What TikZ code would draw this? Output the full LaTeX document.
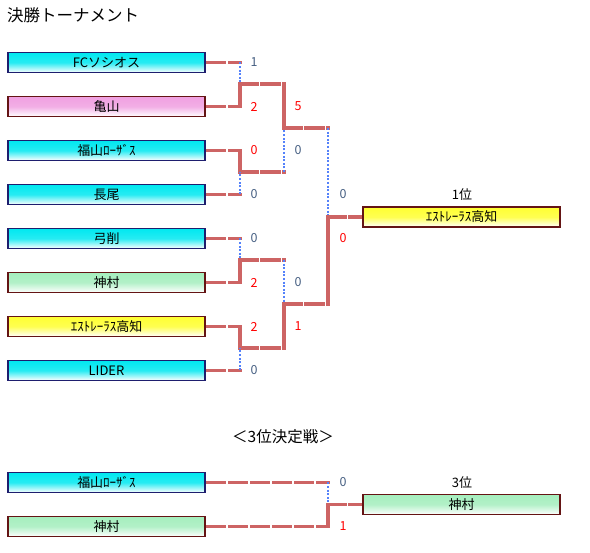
\documentclass[tikz,border=0pt]{standalone}
\usepackage{fontspec}
\setmainfont{Noto Sans CJK JP}
\definecolor{ln}{RGB}{205,100,100}
\definecolor{dt}{RGB}{85,130,250}
\definecolor{lose}{RGB}{70,95,130}
\definecolor{win}{RGB}{255,0,0}
\definecolor{navyb}{RGB}{30,30,110}
\definecolor{maroonb}{RGB}{100,20,20}
\definecolor{cyT}{RGB}{0,232,240}
\definecolor{pkT}{RGB}{240,160,225}
\definecolor{grT}{RGB}{165,238,190}
\definecolor{yeT}{RGB}{255,255,50}
\tikzset{
  team/.style={minimum width=197pt, minimum height=20pt, inner sep=0pt, line width=1.3pt, font=\fontsize{13}{15}\selectfont},
  cy/.style={team, draw=navyb, top color=cyT, bottom color=white, middle color=cyT!85!white},
  pk/.style={team, draw=maroonb, top color=pkT, bottom color=white, middle color=pkT!85!white},
  gr/.style={team, draw=maroonb, top color=grT, bottom color=white, middle color=grT!85!white},
  ye/.style={team, draw=maroonb, top color=yeT, bottom color=white, middle color=yeT!85!white},
  hl/.style={draw=ln, line width=3.2pt, line cap=rect, dash pattern=on 17pt off 5pt},
  vl/.style={draw=ln, line width=3.2pt, line cap=rect},
  dl/.style={draw=dt, line width=2.4pt, dash pattern=on 2pt off 1.6pt},
  sc/.style={font=\fontsize{12.5}{14}\selectfont, inner sep=0pt},
  ls/.style={sc, text=lose},
  ws/.style={sc, text=win},
  lab/.style={font=\fontsize{13}{15}\selectfont, inner sep=0pt}
}
\begin{document}
\begin{tikzpicture}[x=1pt, y=-1pt]
\useasboundingbox (0,0) rectangle (590,553);
\node[anchor=west, font=\fontsize{16.5}{19}\selectfont, inner sep=0pt] (title) at (7,15) {決勝トーナメント};
% teams
\node[cy] (fc) at (106.5,62.5) {FCソシオス};
\node[pk] (km) at (106.5,106.5) {亀山};
\node[cy] (fk) at (106.5,150.5) {福山ﾛｰｻﾞｽ};
\node[cy] (no) at (106.5,194.5) {長尾};
\node[cy] (yg) at (106.5,238.5) {弓削};
\node[gr] (kk) at (106.5,282.5) {神村};
\node[ye] (ex) at (106.5,326.5) {ｴｽﾄﾚｰﾗｽ高知};
\node[cy] (li) at (106.5,370.5) {LIDER};
\node[ye] (ch) at (461.5,217) {ｴｽﾄﾚｰﾗｽ高知};
\node[lab] (p1) at (462,195) {1位};
% junction coordinates
\coordinate (a1) at (240,62.5); \coordinate (a2) at (240,106.5); \coordinate (am) at (240,84);
\coordinate (b1) at (240,150.5); \coordinate (b2) at (240,194.5); \coordinate (bm) at (240,172);
\coordinate (c1) at (240,238.5); \coordinate (c2) at (240,282.5); \coordinate (cm) at (240,260);
\coordinate (d1) at (240,326.5); \coordinate (d2) at (240,370.5); \coordinate (dm) at (240,348);
\coordinate (e1) at (284,84); \coordinate (e2) at (284,172); \coordinate (em) at (284,128);
\coordinate (f1) at (284,260); \coordinate (f2) at (284,348); \coordinate (fm) at (284,304);
\coordinate (g1) at (328,128); \coordinate (g2) at (328,304); \coordinate (gm) at (328,217);
% round 1
\draw[hl] ([xshift=1.6pt]fc.east) -- (a1);
\draw[dl] (a1) -- (am);
\draw[hl] ([xshift=1.6pt]km.east) -- (a2);
\draw[vl] (a2) -- (am);
\draw[hl] (am) -- (e1);
\draw[hl] ([xshift=1.6pt]fk.east) -- (b1);
\draw[vl] (b1) -- (bm);
\draw[hl] (bm) -- (e2);
\draw[hl] ([xshift=1.6pt]no.east) -- (b2);
\draw[dl] (b2) -- (bm);
\draw[hl] ([xshift=1.6pt]yg.east) -- (c1);
\draw[dl] (c1) -- (cm);
\draw[hl] ([xshift=1.6pt]kk.east) -- (c2);
\draw[vl] (c2) -- (cm);
\draw[hl] (cm) -- (f1);
\draw[hl] ([xshift=1.6pt]ex.east) -- (d1);
\draw[vl] (d1) -- (dm);
\draw[hl] (dm) -- (f2);
\draw[hl] ([xshift=1.6pt]li.east) -- (d2);
\draw[dl] (d2) -- (dm);
% round 2
\draw[vl] (e1) -- (em);
\draw[dl] (e2) -- (em);
\draw[hl] (em) -- (g1);
\draw[dl] (f1) -- (fm);
\draw[vl] (f2) -- (fm);
\draw[hl] (fm) -- (g2);
% final
\draw[dl] (g1) -- (gm);
\draw[vl] (g2) -- (gm);
\draw[hl] (gm) -- ([xshift=-1.6pt]ch.west);
% scores
\node[ls] (s1) at (254,62.5) {1};
\node[ws] (s2) at (254,106.5) {2};
\node[ws] (s3) at (254,150.5) {0};
\node[ls] (s4) at (254,194.5) {0};
\node[ls] (s5) at (254,238.5) {0};
\node[ws] (s6) at (254,282.5) {2};
\node[ws] (s7) at (254,326.5) {2};
\node[ls] (s8) at (254,370.5) {0};
\node[ws] (r1) at (298,106.5) {5};
\node[ls] (r2) at (298,150.5) {0};
\node[ls] (r3) at (298,282.5) {0};
\node[ws] (r4) at (298,326.5) {1};
\node[ls] (q1) at (343,194.5) {0};
\node[ws] (q2) at (343,238.5) {0};
% third place
\node[font=\fontsize{15.5}{18}\selectfont, inner sep=0pt] (t3) at (283,437) {＜3位決定戦＞};
\node[cy] (fk3) at (106.5,482.5) {福山ﾛｰｻﾞｽ};
\node[gr] (kk3) at (106.5,526.5) {神村};
\node[gr] (th) at (461.5,504.5) {神村};
\node[lab] (p3) at (462,482.5) {3位};
\coordinate (h1) at (328,482.5); \coordinate (h2) at (328,526.5); \coordinate (hm) at (328,504.5);
\draw[hl] ([xshift=1.6pt]fk3.east) -- (h1);
\draw[dl] (h1) -- (hm);
\draw[hl] ([xshift=1.6pt]kk3.east) -- (h2);
\draw[vl] (h2) -- (hm);
\draw[hl] (hm) -- ([xshift=-1.6pt]th.west);
\node[ls] (u1) at (343,482.5) {0};
\node[ws] (u2) at (343,526.5) {1};
\end{tikzpicture}
\end{document}
